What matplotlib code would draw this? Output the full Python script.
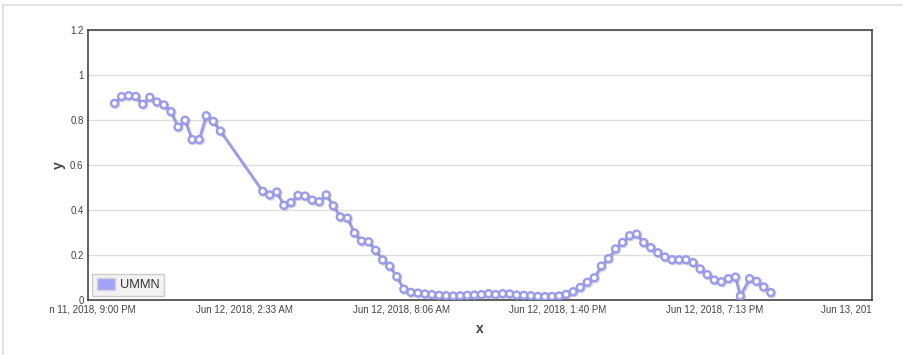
import datetime as dt
import matplotlib
matplotlib.use("Agg")
import matplotlib.pyplot as plt
from matplotlib.patches import Patch
from matplotlib.lines import Line2D
from matplotlib.transforms import Bbox, TransformedBbox
import matplotlib.patheffects as pe

plt.rcParams['font.family'] = ['Liberation Sans', 'DejaVu Sans']

# ---- data ----
series_name = "UMMN"
start_time = dt.datetime(2018, 6, 11, 21, 57)
step_minutes = 15
# sample index (15-min steps from start) and value
sample_index = list(range(0, 16)) + list(range(21, 89)) + [88.7] + list(range(90, 94))
values = [
    0.874, 0.904, 0.908, 0.905, 0.870, 0.901, 0.880, 0.867, 0.837, 0.769,
    0.799, 0.713, 0.713, 0.819, 0.794, 0.751,
    0.483, 0.467, 0.480, 0.421, 0.433, 0.465, 0.462, 0.444, 0.437, 0.467,
    0.419, 0.369, 0.364, 0.298, 0.262, 0.259, 0.221, 0.178, 0.150, 0.104,
    0.048, 0.034, 0.031, 0.027, 0.024, 0.021, 0.019, 0.018, 0.019, 0.021,
    0.022, 0.024, 0.028, 0.024, 0.028, 0.027, 0.022, 0.021, 0.019, 0.016,
    0.015, 0.016, 0.018, 0.025, 0.037, 0.056, 0.079, 0.099, 0.151, 0.184,
    0.227, 0.256, 0.286, 0.293, 0.255, 0.233, 0.210, 0.191, 0.179, 0.179,
    0.179, 0.166, 0.138, 0.113, 0.089, 0.081, 0.095, 0.102,
    0.018,
    0.095, 0.083, 0.058, 0.033,
]
times = [start_time + dt.timedelta(minutes=step_minutes * k) for k in sample_index]

x_start = dt.datetime(2018, 6, 11, 21, 0)
x_tick_times = [x_start + dt.timedelta(seconds=20000 * i) for i in range(6)]
x_tick_labels = ["Jun 11, 2018, 9:00 PM", "Jun 12, 2018, 2:33 AM", "Jun 12, 2018, 8:06 AM",
                 "Jun 12, 2018, 1:40 PM", "Jun 12, 2018, 7:13 PM", "Jun 13, 2018, 12:46 AM"]
y_ticks = [0, 0.2, 0.4, 0.6, 0.8, 1.0, 1.2]
y_tick_labels = ["0", "0.2", "0.4", "0.6", "0.8", "1", "1.2"]

# ---- figure ----
W, H = 904, 355
fig = plt.figure(figsize=(W / 100, H / 100), dpi=100)
fig.patch.set_facecolor('white')
ax = fig.add_axes([87.7 / W, (H - 300) / H, 784 / W, 270 / H])

line_color = '#9a9aee'
ax.plot(times, values, color=line_color, lw=2.0, marker='o', markersize=5.0,
        markerfacecolor='white', markeredgecolor=line_color, markeredgewidth=1.7,
        zorder=3,
        path_effects=[pe.SimpleLineShadow(offset=(0.8, -0.8), shadow_color='#777777', alpha=0.3),
                      pe.Normal()])

ax.set_xlim(x_tick_times[0], x_tick_times[-1])
ax.set_ylim(0, 1.2)
ax.set_xticks(x_tick_times)
ax.set_xticklabels(x_tick_labels)
ax.set_yticks(y_ticks)
ax.set_yticklabels(y_tick_labels)
ax.tick_params(axis='both', length=0, labelsize=7, labelcolor='#444444')
ax.tick_params(axis='x', pad=3.5)
ax.tick_params(axis='y', pad=3)
ax.grid(axis='y', color='#dddddd', lw=1)
ax.set_axisbelow(True)
for s in ax.spines.values():
    s.set_color('#444444')
    s.set_linewidth(1.2)

ax.set_xlabel('x', fontsize=10, fontweight='bold', color='#444444', labelpad=5)
ax.set_ylabel('y', fontsize=10, fontweight='bold', color='#444444', labelpad=3)

leg = ax.legend(handles=[Patch(facecolor='#a3a3f5', edgecolor='#cfcfdf', lw=1.0, label=series_name)],
                loc='lower left', bbox_to_anchor=(0.006, 0.015), fontsize=9.3,
                frameon=True, fancybox=False, framealpha=1, facecolor='#f2f2f2',
                edgecolor='#cccccc', handlelength=1.4, handleheight=1.0, handletextpad=0.4,
                borderpad=0.35, borderaxespad=0)
leg.get_frame().set_linewidth(1.0)
for t in leg.get_texts():
    t.set_color('#333333')

# outer light border lines of the page
fig.add_artist(Line2D([3 / W, 1], [1 - 4.5 / H, 1 - 4.5 / H], transform=fig.transFigure,
                      color='#dddddd', lw=1.2))
fig.add_artist(Line2D([3 / W, 3 / W], [0, 1 - 4.5 / H], transform=fig.transFigure,
                      color='#dddddd', lw=1.2))

fig.canvas.draw()
clip = TransformedBbox(Bbox([[49 / W, 0], [872 / W, 1]]), fig.transFigure)
for lab in ax.get_xticklabels():
    lab.set_clip_box(clip)
    lab.set_clip_on(True)

fig.savefig('out.png', dpi=100)
